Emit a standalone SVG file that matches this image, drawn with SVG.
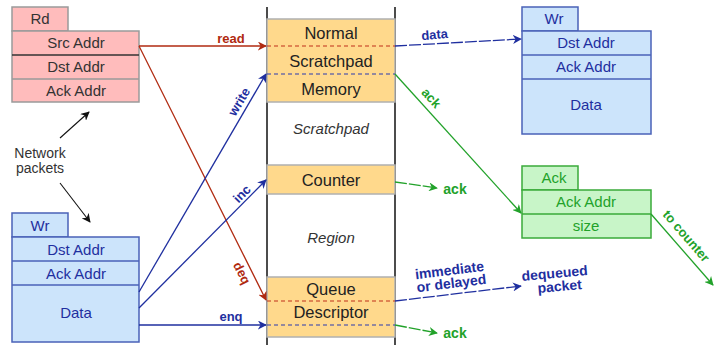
<svg xmlns="http://www.w3.org/2000/svg" width="718" height="345" viewBox="0 0 718 345">
<defs>
<marker id="ar" viewBox="0 0 10 10" refX="9" refY="5" markerWidth="9" markerHeight="9" markerUnits="userSpaceOnUse" orient="auto"><path d="M0,0 L10,5 L0,10 L3,5 z" fill="#b02a10"/></marker>
<marker id="ab" viewBox="0 0 10 10" refX="9" refY="5" markerWidth="9" markerHeight="9" markerUnits="userSpaceOnUse" orient="auto"><path d="M0,0 L10,5 L0,10 L3,5 z" fill="#1f2f9f"/></marker>
<marker id="ag" viewBox="0 0 10 10" refX="9" refY="5" markerWidth="9" markerHeight="9" markerUnits="userSpaceOnUse" orient="auto"><path d="M0,0 L10,5 L0,10 L3,5 z" fill="#22a22a"/></marker>
<marker id="ak" viewBox="0 0 10 10" refX="9" refY="5" markerWidth="9" markerHeight="9" markerUnits="userSpaceOnUse" orient="auto"><path d="M0,0 L10,5 L0,10 L3,5 z" fill="#111"/></marker>
</defs>
<style>
text{font-family:"Liberation Sans",Arial,sans-serif;font-size:15px;text-anchor:middle}
.pk{fill:#ffbcbc;stroke:#9a9a9a;stroke-width:1.5}
.pt{fill:#333}
.bk{fill:#cce4fb;stroke:#4a62b8;stroke-width:1.5}
.bt{fill:#1f2f9f}
.gk{fill:#c8f5c8;stroke:#3aaa3a;stroke-width:1.5}
.gt{fill:#22a22a}
.ok{fill:#ffd98c;stroke:#b0b0b0;stroke-width:1.5}
.ot{fill:#222;font-size:16.5px}
.it{fill:#333;font-style:italic;font-size:15px}
.lr{stroke:#b02a10;fill:none;stroke-width:1.3}
.lb{stroke:#1f2f9f;fill:none;stroke-width:1.3}
.lg{stroke:#22a22a;fill:none;stroke-width:1.3}
.dsh{stroke-dasharray:12 2}
.lab{font-weight:bold;font-size:13px}
</style>

<g id="rd-packet">
<rect class="pk" x="12" y="7" width="56" height="24"/>
<rect class="pk" x="12" y="31" width="127" height="71"/>
<line x1="12" y1="55" x2="139" y2="55" stroke="#333" stroke-width="1.5"/>
<line x1="12" y1="79" x2="139" y2="79" stroke="#9a9a9a" stroke-width="1.5"/>
<text class="pt" x="40" y="24">Rd</text>
<text class="pt" x="76" y="48">Src Addr</text>
<text class="pt" x="76" y="72">Dst Addr</text>
<text class="pt" x="76" y="96">Ack Addr</text>
</g>

<g id="wr-packet-left">
<rect class="bk" x="12" y="213" width="56" height="24"/>
<rect class="bk" x="12" y="237" width="127" height="105"/>
<line x1="12" y1="261" x2="139" y2="261" stroke="#4a62b8" stroke-width="1.5"/>
<line x1="12" y1="285" x2="139" y2="285" stroke="#4a62b8" stroke-width="1.5"/>
<text class="bt" x="40" y="231">Wr</text>
<text class="bt" x="76" y="255">Dst Addr</text>
<text class="bt" x="76" y="279">Ack Addr</text>
<text class="bt" x="76" y="318">Data</text>
</g>

<g id="network-packets">
<text class="pt" x="40" y="158" style="font-size:14px">Network</text>
<text class="pt" x="40" y="173" style="font-size:14px">packets</text>
</g>

<g id="memory">
<line x1="267" y1="7" x2="267" y2="345" stroke="#111" stroke-width="1.5"/>
<line x1="395" y1="7" x2="395" y2="345" stroke="#111" stroke-width="1.5"/>
<rect class="ok" x="267" y="19" width="128" height="83"/>
<line x1="267" y1="46" x2="395" y2="46" stroke="#c0301a" stroke-width="1.2" stroke-dasharray="4 3"/>
<line x1="267" y1="74" x2="395" y2="74" stroke="#2a3ab0" stroke-width="1.2" stroke-dasharray="4 3"/>
<text class="ot" x="331" y="39">Normal</text>
<text class="ot" x="331" y="67">Scratchpad</text>
<text class="ot" x="331" y="95">Memory</text>
<text class="it" x="331" y="134">Scratchpad</text>
<rect class="ok" x="267" y="165" width="128" height="29"/>
<text class="ot" x="331" y="186">Counter</text>
<text class="it" x="331" y="243">Region</text>
<rect class="ok" x="267" y="277" width="128" height="60"/>
<line x1="267" y1="301" x2="395" y2="301" stroke="#c0301a" stroke-width="1.2" stroke-dasharray="4 3"/>
<line x1="267" y1="325" x2="395" y2="325" stroke="#2a3ab0" stroke-width="1.2" stroke-dasharray="4 3"/>
<text class="ot" x="331" y="295">Queue</text>
<text class="ot" x="331" y="318">Descriptor</text>
</g>

<g id="wr-packet-right">
<rect class="bk" x="522" y="7" width="56" height="24"/>
<rect class="bk" x="522" y="31" width="129" height="103"/>
<line x1="522" y1="55" x2="651" y2="55" stroke="#4a62b8" stroke-width="1.5"/>
<line x1="522" y1="79" x2="651" y2="79" stroke="#4a62b8" stroke-width="1.5"/>
<text class="bt" x="554" y="24">Wr</text>
<text class="bt" x="586" y="48">Dst Addr</text>
<text class="bt" x="586" y="72">Ack Addr</text>
<text class="bt" x="586" y="110">Data</text>
</g>

<g id="ack-packet">
<rect class="gk" x="522" y="166" width="56" height="24"/>
<rect class="gk" x="522" y="190" width="129" height="48"/>
<line x1="522" y1="214" x2="651" y2="214" stroke="#3aaa3a" stroke-width="1.5"/>
<text class="gt" x="554" y="183">Ack</text>
<text class="gt" x="586" y="207">Ack Addr</text>
<text class="gt" x="586" y="231">size</text>
</g>

<g id="connectors">
<line x1="60" y1="138" x2="89" y2="112" stroke="#111" stroke-width="1.1" marker-end="url(#ak)"/>
<line x1="60" y1="183" x2="90" y2="222" stroke="#111" stroke-width="1.1" marker-end="url(#ak)"/>

<line class="lr" x1="139" y1="46" x2="266" y2="46" marker-end="url(#ar)"/>
<text class="lab" x="231" y="43" fill="#b02a10">read</text>
<line class="lr" x1="139" y1="46" x2="266" y2="300" stroke-width="0.9" marker-end="url(#ar)"/>
<text class="lab" x="0" y="0" fill="#b02a10" transform="translate(238,275) rotate(63.5)">deq</text>

<line class="lb" x1="139" y1="292" x2="266" y2="74" marker-end="url(#ab)"/>
<text class="lab" x="0" y="0" fill="#1f2f9f" transform="translate(243,104) rotate(-59.8)">write</text>
<line class="lb" x1="139" y1="308" x2="266" y2="180" marker-end="url(#ab)"/>
<text class="lab" x="0" y="0" fill="#1f2f9f" transform="translate(245,197) rotate(-45.2)">inc</text>
<line class="lb" x1="139" y1="325" x2="266" y2="325" marker-end="url(#ab)"/>
<text class="lab" x="231" y="321" fill="#1f2f9f">enq</text>

<line class="lb dsh" x1="395" y1="46" x2="521" y2="39" marker-end="url(#ab)"/>
<text class="lab" x="0" y="0" fill="#1f2f9f" transform="translate(435,39) rotate(-5)">data</text>

<line class="lg" x1="395" y1="74" x2="521" y2="213" marker-end="url(#ag)"/>
<text class="lab" x="0" y="0" fill="#22a22a" transform="translate(428,101) rotate(47.8)">ack</text>

<line class="lg dsh" x1="395" y1="182" x2="437" y2="188" marker-end="url(#ag)"/>
<text class="lab" x="455" y="194" fill="#22a22a" style="font-size:14px">ack</text>

<line class="lb dsh" x1="395" y1="301" x2="521" y2="286" marker-end="url(#ab)"/>
<text class="lab" x="0" y="0" fill="#1f2f9f" transform="translate(450,275) rotate(-7)" style="font-size:14px">immediate</text>
<text class="lab" x="0" y="0" fill="#1f2f9f" transform="translate(452,288) rotate(-7)" style="font-size:14px">or delayed</text>
<text class="lab" x="0" y="0" fill="#1f2f9f" transform="translate(555,278) rotate(-5)" style="font-size:14px">dequeued</text>
<text class="lab" x="0" y="0" fill="#1f2f9f" transform="translate(560,291) rotate(-5)" style="font-size:14px">packet</text>

<line class="lg dsh" x1="395" y1="325" x2="437" y2="333" marker-end="url(#ag)"/>
<text class="lab" x="455" y="338" fill="#22a22a" style="font-size:14px">ack</text>

<line class="lg" x1="651" y1="214" x2="713" y2="285" marker-end="url(#ag)"/>
<text class="lab" x="0" y="0" fill="#22a22a" transform="translate(683,239) rotate(48.9)">to counter</text>
</g>
</svg>
